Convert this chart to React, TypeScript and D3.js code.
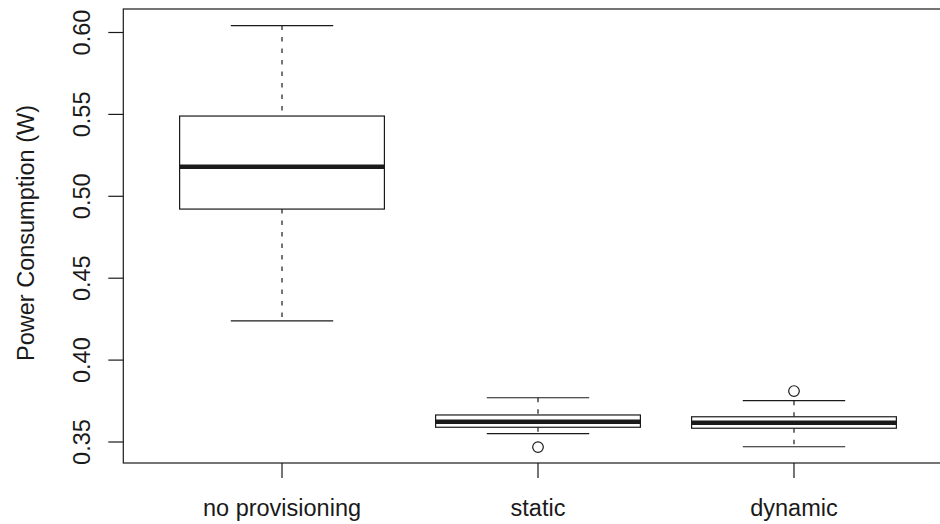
import React from "react";
import * as d3 from "d3";

const categories = ["no provisioning", "static", "dynamic"];
const whiskerLow = [0.4239, 0.3551, 0.3471];
const q1 = [0.4922, 0.359, 0.3584];
const median = [0.5181, 0.3624, 0.3618];
const q3 = [0.549, 0.3665, 0.3654];
const whiskerHigh = [0.6042, 0.377, 0.3752];
const outliers: number[][] = [[], [0.3469], [0.3811]];
const yTicks = [0.35, 0.4, 0.45, 0.5, 0.55, 0.6];

const W = 940;
const H = 524;
const plotTop = 9;
const plotBottom = 463;
const plotLeft = 123.3;
const plotRight = 952.7;
const FONT = "'Liberation Sans', Arial, Helvetica, sans-serif";
const FS = 23.5;
const INK = "#1a1a1a";

export default function App() {
  const x = d3.scaleLinear().domain([0.38, 3.62]).range([plotLeft, plotRight]);
  const y = d3.scaleLinear().domain([0.35, 0.6]).range([442, 32.5]);
  const boxHalf = x(1.4) - x(1);
  const capHalf = boxHalf / 2;

  return (
    <svg
      width={W}
      height={H}
      style={{ position: "absolute", left: 0, top: 0, background: "#fff" }}
      fontFamily={FONT}
    >
      {/* frame */}
      <rect
        x={plotLeft}
        y={plotTop}
        width={plotRight - plotLeft}
        height={plotBottom - plotTop}
        fill="none"
        stroke={INK}
        strokeWidth={1.2}
      />
      {/* y axis */}
      {yTicks.map((t) => (
        <g key={t}>
          <line x1={plotLeft - 15} x2={plotLeft} y1={y(t)} y2={y(t)} stroke={INK} strokeWidth={1.2} />
          <text
            transform={`translate(90,${y(t)}) rotate(-90)`}
            textAnchor="middle"
            fontSize={FS}
            fill={INK}
          >
            {d3.format(".2f")(t)}
          </text>
        </g>
      ))}
      <text
        transform={`translate(34,${(plotTop + plotBottom) / 2 - 3}) rotate(-90)`}
        textAnchor="middle"
        fontSize={FS}
        fill={INK}
      >
        Power Consumption (W)
      </text>
      {/* x axis */}
      {categories.map((c, i) => (
        <g key={c}>
          <line x1={x(i + 1)} x2={x(i + 1)} y1={plotBottom} y2={plotBottom + 15} stroke={INK} strokeWidth={1.2} />
          <text x={x(i + 1)} y={516} textAnchor="middle" fontSize={FS} fill={INK}>
            {c}
          </text>
        </g>
      ))}
      {/* boxes */}
      {categories.map((c, i) => {
        const cx = x(i + 1);
        return (
          <g key={"b" + c}>
            <line x1={cx} x2={cx} y1={y(whiskerHigh[i])} y2={y(q3[i])} stroke={INK} strokeWidth={1.2} strokeDasharray="4.5,7" />
            <line x1={cx} x2={cx} y1={y(q1[i])} y2={y(whiskerLow[i])} stroke={INK} strokeWidth={1.2} strokeDasharray="4.5,7" />
            <line x1={cx - capHalf} x2={cx + capHalf} y1={y(whiskerHigh[i])} y2={y(whiskerHigh[i])} stroke={INK} strokeWidth={1.2} />
            <line x1={cx - capHalf} x2={cx + capHalf} y1={y(whiskerLow[i])} y2={y(whiskerLow[i])} stroke={INK} strokeWidth={1.2} />
            <rect
              x={cx - boxHalf}
              y={y(q3[i])}
              width={boxHalf * 2}
              height={y(q1[i]) - y(q3[i])}
              fill="#fff"
              stroke={INK}
              strokeWidth={1.2}
            />
            <line x1={cx - boxHalf} x2={cx + boxHalf} y1={y(median[i])} y2={y(median[i])} stroke={INK} strokeWidth={4.5} />
            {outliers[i].map((o, k) => (
              <circle key={k} cx={cx} cy={y(o)} r={5.3} fill="none" stroke={INK} strokeWidth={1.2} />
            ))}
          </g>
        );
      })}
    </svg>
  );
}
